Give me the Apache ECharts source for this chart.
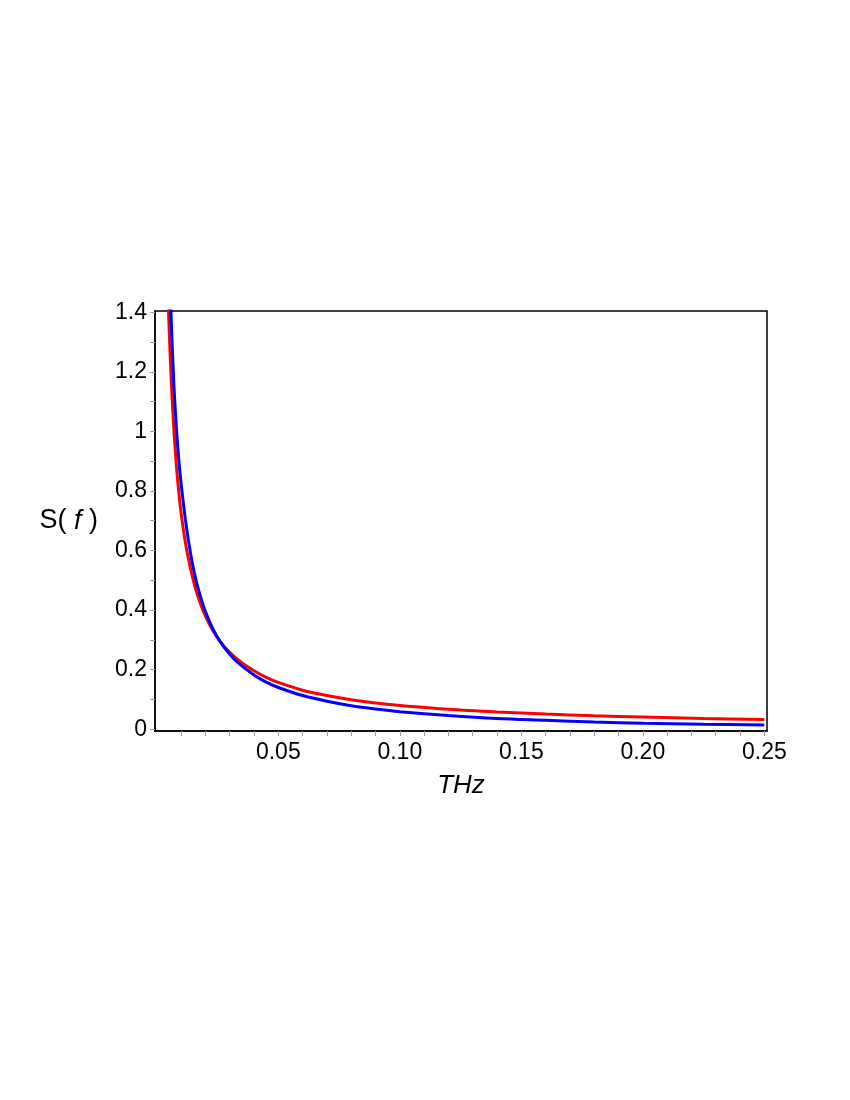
<!DOCTYPE html>
<html>
<head>
<meta charset="utf-8">
<script src="https://cdn.jsdelivr.net/npm/echarts@6/dist/echarts.min.js"></script>
<style>
    html, body { margin: 0; padding: 0; background: #fff; }
    #chart { width: 850px; height: 1100px; }
</style>
</head>
<body>
<div id="chart"></div>
<script>
// frequency samples (THz)
const freqRed = [0.0045, 0.005, 0.006, 0.007, 0.008, 0.009, 0.010, 0.012, 0.014, 0.016, 0.018, 0.020,
    0.023, 0.026, 0.030, 0.034, 0.040, 0.045, 0.050, 0.060, 0.070, 0.080, 0.090, 0.100,
    0.120, 0.140, 0.160, 0.180, 0.200, 0.225, 0.250];
const sRed = [1.50, 1.36, 1.16, 1.01, 0.89, 0.80, 0.725, 0.615, 0.535, 0.470, 0.420, 0.380,
    0.332, 0.295, 0.258, 0.229, 0.196, 0.174, 0.157, 0.131, 0.113, 0.099, 0.088, 0.080,
    0.067, 0.058, 0.051, 0.045, 0.041, 0.036, 0.033];

const freqBlue = [0.0052, 0.006, 0.007, 0.008, 0.009, 0.010, 0.012, 0.014, 0.016, 0.018, 0.020,
    0.023, 0.026, 0.030, 0.034, 0.040, 0.045, 0.050, 0.060, 0.070, 0.080, 0.090, 0.100,
    0.120, 0.140, 0.160, 0.180, 0.200, 0.225, 0.250];
const sBlue = [1.55, 1.36, 1.16, 1.02, 0.91, 0.825, 0.69, 0.585, 0.505, 0.445, 0.395,
    0.338, 0.295, 0.252, 0.219, 0.182, 0.158, 0.140, 0.113, 0.094, 0.079, 0.068, 0.059,
    0.046, 0.036, 0.030, 0.024, 0.020, 0.017, 0.0145];

const xTicks = [0.01, 0.02, 0.03, 0.04, 0.05, 0.06, 0.07, 0.08, 0.09, 0.10, 0.11, 0.12, 0.13,
    0.14, 0.15, 0.16, 0.17, 0.18, 0.19, 0.20, 0.21, 0.22, 0.23, 0.24, 0.25];
const xLabels = [0.05, 0.10, 0.15, 0.20, 0.25];
const yTicks = [0, 0.1, 0.2, 0.3, 0.4, 0.5, 0.6, 0.7, 0.8, 0.9, 1.0, 1.1, 1.2, 1.3, 1.4];
const yLabels = [0, 0.2, 0.4, 0.6, 0.8, 1.0, 1.2, 1.4];

const font = '"Liberation Sans", Arial, sans-serif';

const pairs = (xs, ys) => xs.map((x, i) => [x, ys[i]]);

const myChart = echarts.init(document.getElementById('chart'));
myChart.setOption({
    animation: false,
    grid: {
        left: 155,
        top: 311,
        right: 83,
        bottom: 369,
        show: true,
        borderColor: '#000',
        borderWidth: 1.5,
        backgroundColor: 'transparent'
    },
    xAxis: {
        type: 'value',
        min: -0.00074,
        max: 0.2511,
        name: 'THz',
        nameLocation: 'middle',
        nameGap: 42,
        nameTextStyle: { fontFamily: font, fontSize: 26, fontStyle: 'italic', color: '#000' },
        axisLine: { show: true, onZero: false, lineStyle: { color: '#000', width: 1.5 } },
        axisTick: {
            show: true,
            customValues: xTicks,
            length: 5,
            lineStyle: { color: '#999', width: 1 }
        },
        axisLabel: {
            customValues: xLabels,
            formatter: (v) => v.toFixed(2),
            margin: 10,
            fontFamily: font,
            fontSize: 23,
            color: '#000'
        },
        splitLine: { show: false }
    },
    yAxis: {
        type: 'value',
        min: -0.006,
        max: 1.404,
        name: '{n|S}{n|(}{i| f }{n|)}',
        nameLocation: 'middle',
        nameRotate: 0,
        nameGap: 57,
        nameTextStyle: {
            rich: {
                n: { fontFamily: font, fontSize: 27, color: '#000' },
                i: { fontFamily: font, fontSize: 27, fontStyle: 'italic', color: '#000' }
            }
        },
        axisLine: { show: true, onZero: false, lineStyle: { color: '#000', width: 1.5 } },
        axisTick: {
            show: true,
            customValues: yTicks,
            length: 5,
            lineStyle: { color: '#999', width: 1 }
        },
        axisLabel: {
            customValues: yLabels,
            formatter: (v) => String(Math.round(v * 10) / 10),
            margin: 8,
            fontFamily: font,
            fontSize: 23,
            color: '#000'
        },
        splitLine: { show: false }
    },
    series: [
        {
            type: 'line',
            data: pairs(freqRed, sRed),
            smooth: 0.3,
            showSymbol: false,
            clip: true,
            lineStyle: { color: '#ff0000', width: 3 }
        },
        {
            type: 'line',
            data: pairs(freqBlue, sBlue),
            smooth: 0.3,
            showSymbol: false,
            clip: true,
            lineStyle: { color: '#0000ff', width: 3 }
        }
    ]
});
</script>
</body>
</html>
